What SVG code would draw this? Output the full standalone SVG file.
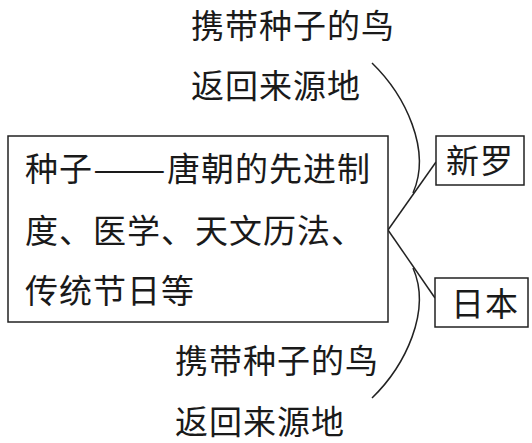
<svg xmlns="http://www.w3.org/2000/svg" width="532" height="443" viewBox="0 0 532 443">
<style>
text{font-family:"Noto Sans CJK SC","Noto Sans CJK JP",sans-serif;font-size:33px;fill:#1a1a1a;letter-spacing:1px}
.box{fill:#fff;stroke:#222;stroke-width:1.5}
.ln{fill:none;stroke:#222;stroke-width:1.5}
</style>
<rect width="532" height="443" fill="#fff"/>
<g id="connectors">
<path class="ln" d="M388,230 L436,162"/>
<path class="ln" d="M388,230 L435,298"/>
<path class="ln" d="M372,63 C405,95 432,150 413,193"/>
<path class="ln" d="M413,268 C432,311 405,366 372,398"/>
</g>
<g id="main">
<rect class="box" x="8" y="136" width="380" height="186"/>
<text x="25" y="181">种子<tspan textLength="74" lengthAdjust="spacingAndGlyphs">——</tspan>唐朝的先进制</text>
<text x="25" y="243">度、医学、天文历法、</text>
<text x="25" y="303">传统节日等</text>
</g>
<g id="xinluo">
<rect class="box" x="436" y="136" width="88" height="49"/>
<text x="446" y="173">新罗</text>
</g>
<g id="riben">
<rect class="box" x="435" y="278" width="93" height="49"/>
<text x="451" y="316">日本</text>
</g>
<g id="label-top">
<text x="191" y="38">携带种子的鸟</text>
<text x="191" y="98">返回来源地</text>
</g>
<g id="label-bottom">
<text x="175" y="373">携带种子的鸟</text>
<text x="175" y="434">返回来源地</text>
</g>
</svg>
